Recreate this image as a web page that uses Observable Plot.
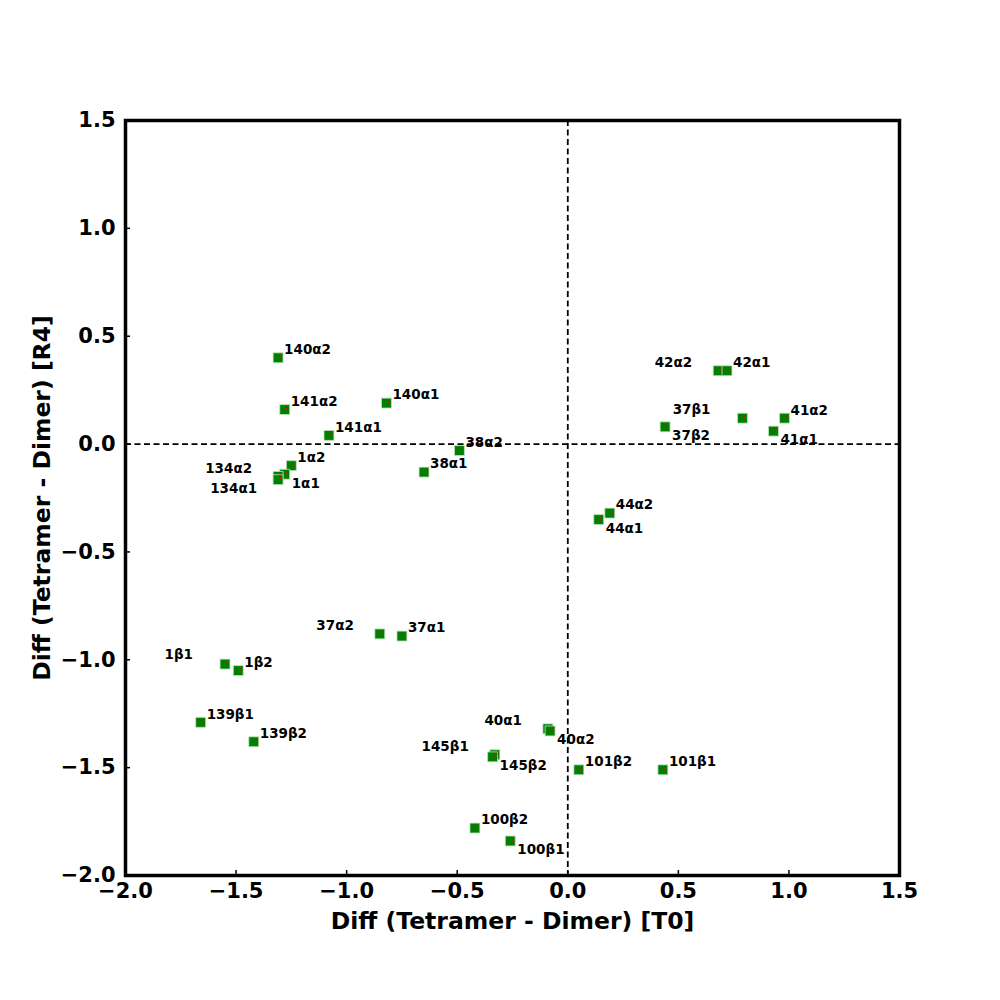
<!DOCTYPE html>
<html>
<head>
<meta charset="utf-8">
<script src="https://cdn.jsdelivr.net/npm/d3@7"></script>
<script src="https://cdn.jsdelivr.net/npm/@observablehq/plot@0.6"></script>
<style>
  html, body { margin: 0; padding: 0; background: white; }
</style>
</head>
<body>
<div id="chart"></div>
<script>
const names = ["140α2","141α2","140α1","141α1","38α2","38α1","1α2","1α1","134α2","134α1",
  "42α2","42α1","37β1","37β2","41α2","41α1","44α2","44α1","37α2","37α1",
  "1β1","1β2","139β1","139β2","40α1","40α2","145β1","145β2","101β2","101β1","100β2","100β1"];
const xT0 = [-1.31,-1.28,-0.82,-1.08,-0.49,-0.65,-1.25,-1.28,-1.31,-1.31,
  0.68,0.72,0.79,0.44,0.98,0.93,0.19,0.14,-0.85,-0.75,
  -1.55,-1.49,-1.66,-1.42,-0.09,-0.08,-0.33,-0.34,0.05,0.43,-0.42,-0.26];
const yR4 = [0.40,0.16,0.19,0.04,-0.03,-0.13,-0.10,-0.14,-0.15,-0.165,
  0.34,0.34,0.12,0.08,0.12,0.06,-0.32,-0.35,-0.88,-0.89,
  -1.02,-1.05,-1.29,-1.38,-1.32,-1.33,-1.44,-1.45,-1.51,-1.51,-1.78,-1.84];
// label placement relative to its point: NE = right/above, SE = right/below,
// NW = left/above, FW = further left/above, SW = left/below
const placement = ["NE","NE","NE","NE","NE","NE","NE","SE","NW","SW",
  "NW","NE","FW","SE","NE","SE","NE","SE","NW","NE",
  "FW","NE","NE","NE","NW","SE","NW","SE","NE","NE","NE","SE"];
const ticks = [-2.0,-1.5,-1.0,-0.5,0.0,0.5,1.0,1.5];
const xLabel = "Diff (Tetramer - Dimer) [T0]";
const yLabel = "Diff (Tetramer - Dimer) [R4]";

const data = names.map((n, i) => ({name: n, x: xT0[i], y: yR4[i], p: placement[i]}));
const font = "DejaVu Sans";
const fmt = d3.format(".1f");

const labelMark = (p, opts) => Plot.text(data.filter(d => d.p === p), {
  x: "x", y: "y", text: "name", fontSize: 13.5, fontWeight: "bold", fill: "black",
  fontFamily: font, ...opts
});

const chart = Plot.plot({
  width: 1000,
  height: 1000,
  marginLeft: 125,
  marginRight: 101,
  marginTop: 120,
  marginBottom: 125,
  style: {fontFamily: font, background: "white", color: "black"},
  x: {domain: [-2, 1.5]},
  y: {domain: [-2, 1.5]},
  marks: [
    Plot.ruleY([0], {stroke: "black", strokeWidth: 1.8, strokeDasharray: "6,3.5"}),
    Plot.ruleX([0], {stroke: "black", strokeWidth: 1.8, strokeDasharray: "6,3.5"}),
    Plot.axisX({ticks: ticks, tickFormat: fmt, tickSize: -5, tickPadding: 13, fontSize: 21, fontWeight: "bold", strokeWidth: 1.5, label: null}),
    Plot.axisY({ticks: ticks, tickFormat: fmt, tickSize: -5, tickPadding: 15, fontSize: 21, fontWeight: "bold", strokeWidth: 1.5, label: null}),
    Plot.text([xLabel], {frameAnchor: "bottom", textAnchor: "middle", lineAnchor: "middle", dy: 46, fontSize: 23.5, fontWeight: "bold", fill: "black", fontFamily: font}),
    Plot.text([yLabel], {frameAnchor: "left", textAnchor: "middle", lineAnchor: "middle", dx: -83, rotate: -90, fontSize: 23.5, fontWeight: "bold", fill: "black", fontFamily: font}),
    Plot.dot(data, {x: "x", y: "y", symbol: "square", r: 5.6, fill: "green", stroke: "#bfe3bf", strokeWidth: 0.8}),
    Plot.dot(data, {x: "x", y: "y", r: 0.9, fill: "red", dx: 2, dy: -1}),
    labelMark("NE", {textAnchor: "start", dx: 6, dy: -8}),
    labelMark("SE", {textAnchor: "start", dx: 7, dy: 9}),
    labelMark("NW", {textAnchor: "end", dx: -26, dy: -8}),
    labelMark("FW", {textAnchor: "end", dx: -32, dy: -9}),
    labelMark("SW", {textAnchor: "end", dx: -21, dy: 9}),
    Plot.frame({stroke: "black", strokeWidth: 3.5})
  ]
});
document.getElementById("chart").appendChild(chart);
</script>
</body>
</html>
